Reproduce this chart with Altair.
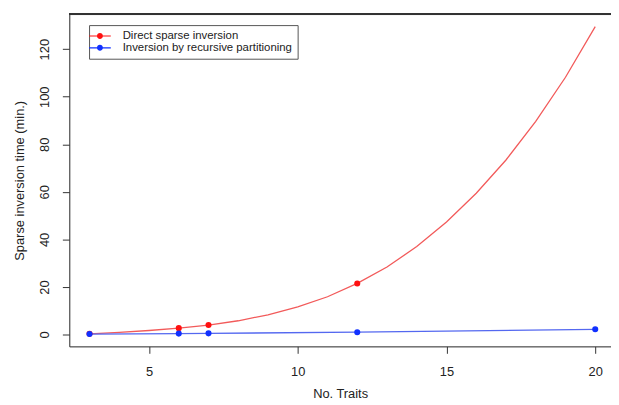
import altair as alt
import pandas as pd

# Direct sparse inversion: smooth curve evaluated at each integer number of traits
curve_n = list(range(3, 21))
curve_t = [0.3, 0.9, 1.7, 2.7, 4.0, 5.8, 8.3, 11.6, 15.9, 21.5,
           28.4, 37.0, 47.3, 59.4, 73.4, 89.6, 108.2, 129.5]
# observed direct points
direct_n = [3, 6, 7, 12]
direct_t = [0.3, 2.7, 4.0, 21.5]
# Inversion by recursive partitioning
rec_n = [3, 6, 7, 12, 20]
rec_t = [0.2, 0.4, 0.5, 1.0, 2.2]

S1 = "Direct sparse inversion"
S2 = "Inversion by recursive partitioning"

curve_df = pd.DataFrame({"n": curve_n, "t": curve_t, "s": S1})
direct_df = pd.DataFrame({"n": direct_n, "t": direct_t, "s": S1})
rec_df = pd.DataFrame({"n": rec_n, "t": rec_t, "s": S2})
lines_df = pd.concat([curve_df, rec_df])
pts_df = pd.concat([direct_df, rec_df])

W, H = 548, 336
FONT = "Liberation Sans"

xscale = alt.Scale(domain=[2.32, 20.53], nice=False, zero=False)
yscale = alt.Scale(domain=[-4.97, 134.7], nice=False, zero=False)

xenc = alt.X("n:Q", scale=xscale, title="No. Traits",
             axis=alt.Axis(values=[5, 10, 15, 20], grid=False, tickSize=7,
                           labelPadding=12, titlePadding=10, labelFontSize=13,
                           titleFontSize=13, domainColor="#333", tickColor="#333",
                           labelColor="#222", titleColor="#222", titleFontWeight="normal"))
yenc = alt.Y("t:Q", scale=yscale, title="Sparse inversion time (min.)",
             axis=alt.Axis(values=[0, 20, 40, 60, 80, 100, 120], grid=False, tickSize=7,
                           labelAngle=270, labelAlign="center", labelBaseline="bottom",
                           labelPadding=11, titlePadding=12, labelFontSize=13,
                           titleFontSize=13, domainColor="#333", tickColor="#333",
                           labelColor="#222", titleColor="#222", titleFontWeight="normal"))

line_colors = alt.Scale(domain=[S1, S2], range=["#f25a5a", "#5468f0"])
pt_colors = alt.Scale(domain=[S1, S2], range=["#ff1010", "#1030ff"])

# legend glyph: thin bar (line) with a dot in the middle
sym = ("M-1.83,-0.1H1.83V0.1H-1.83Z"
       "M-0.5,0A0.5,0.5 0 1,1 0.5,0A0.5,0.5 0 1,1 -0.5,0Z")

lines = alt.Chart(lines_df).mark_line(strokeWidth=1.3).encode(
    x=xenc, y=yenc,
    color=alt.Color("s:N", scale=line_colors, legend=None),
    detail="s:N",
)
points = alt.Chart(pts_df).mark_point(filled=True, size=38, opacity=1).encode(
    x="n:Q", y="t:Q",
    color=alt.Color("s:N", scale=pt_colors, title=None,
                    legend=alt.Legend(orient="none", legendX=20, legendY=11,
                                      symbolType=sym, symbolSize=144,
                                      symbolStrokeWidth=0, padding=5,
                                      labelOffset=17, labelFontSize=11.5,
                                      labelFont=FONT, labelColor="#222",
                                      labelLimit=0, symbolOpacity=1,
                                      rowPadding=0, strokeColor="#555",
                                      fillColor="white", cornerRadius=0)),
)
top_rule = alt.Chart(curve_df).mark_rule(color="#333", strokeWidth=1).encode(
    x=alt.value(0), x2=alt.value(W), y=alt.value(0))

chart = alt.layer(lines, points, top_rule).resolve_scale(color="independent").properties(
    width=W, height=H,
    autosize=alt.AutoSizeParams(type="none"),
    padding={"left": 62, "top": 4, "right": 0, "bottom": 56},
).configure_view(stroke=None).configure(font=FONT)

chart.save("out.html", embed_options={"renderer": "svg", "actions": False})
